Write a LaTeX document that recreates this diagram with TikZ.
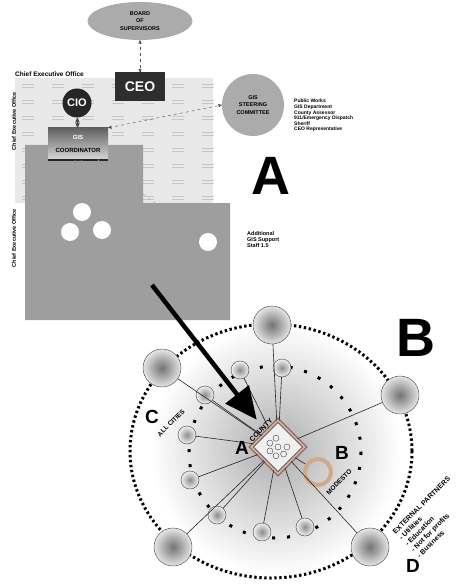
\documentclass[tikz,border=0pt]{standalone}
\usepackage{fontspec}
\setsansfont{Liberation Sans}
\usepackage{tikz}
\usetikzlibrary{arrows,arrows.meta,shapes.geometric}
\definecolor{countybrown}{RGB}{138,98,90}
\definecolor{modestotan}{RGB}{208,168,138}
\tikzset{
  lbl/.style = {inner sep=0pt, align=center, font=\sffamily\bfseries},
  note/.style = {lbl, align=left, font=\sffamily\bfseries\fontsize{5}{5.6}\selectfont},% side lists
  huge/.style = {lbl, font=\sffamily\bfseries\fontsize{54}{54}\selectfont},% big A and B
  mid/.style = {lbl, font=\sffamily\bfseries\fontsize{19}{19}\selectfont},
  slant/.style = {lbl, rotate=45, font=\sffamily\bfseries\fontsize{6.5}{6.5}\selectfont},
  board/.style = {lbl, ellipse, fill=black!33, minimum width=105pt, minimum height=38pt,
    font=\sffamily\bfseries\fontsize{5.5}{7.5}\selectfont},
  ceo/.style = {lbl, rectangle, fill=black!82, text=white, minimum width=50pt,
    minimum height=29pt, font=\sffamily\bfseries\fontsize{14}{14}\selectfont},
  cio/.style = {lbl, circle, fill=black!85, text=white, minimum size=29pt,
    font=\sffamily\bfseries\fontsize{11}{11}\selectfont},
  steer/.style = {lbl, circle, fill=black!33, minimum size=62pt,
    font=\sffamily\bfseries\fontsize{5.5}{7.5}\selectfont},
  coord/.style = {lbl, rectangle, top color=black!62, bottom color=black!15,
    minimum width=60pt, minimum height=32pt, font=\sffamily\bfseries\fontsize{6}{13}\selectfont},
  staff/.style = {circle, fill=white, minimum size=18pt, inner sep=0pt},
  link/.style = {<->, dashed, black!70, thin},
  feed/.style = {{Stealth[reversed,length=3.5pt]}-{Stealth[length=3.5pt]}, dashed, black!40, very thin},
  bigarrow/.style = {-{Triangle[length=32pt,width=29pt]}, line width=4.5pt, black},
  outerring/.style = {line width=3pt, dash pattern=on 2.4pt off 2.6pt},
  innerring/.style = {line width=3pt, dash pattern=on 3pt off 12pt},
  bigsat/.style = {circle, draw=black!75, inner color=black!55, outer color=black!10, minimum size=38pt},
  smallsat/.style = {circle, draw=black!75, inner color=black!45, outer color=black!5, minimum size=18pt},
  spoke/.style = {black!85, line width=0.6pt},
  county/.style = {diamond, draw=countybrown, line width=1.3pt, double=countybrown!45,
    double distance=1.6pt, fill=black!6, minimum width=54pt, minimum height=54pt, inner sep=0pt},
  modesto/.style = {circle, draw=modestotan, line width=4pt, minimum size=26pt},
  texture/.style = {black!22, line width=0.4pt}
}

\begin{document}
\begin{tikzpicture}[x=1pt,y=-1pt,>=stealth']
\useasboundingbox (0,0) rectangle (464,585);
% ---- A: county organisation
\fill[black!9] (15,78) rectangle (213,203);
\foreach \x in {22,52,...,202}
  \foreach \y in {84,100,...,196}
    \draw[texture] (\x,\y) -- ++(12,0) (\x,\y+3) -- ++(12,0);
\fill[black!38] (25,145) -- (143,145) -- (143,203) -- (230,203) -- (230,320) -- (25,320) -- cycle;

\node[lbl, anchor=west, font=\sffamily\bfseries\fontsize{6.5}{6.5}\selectfont] (ceolbl) at (15,74) {Chief Executive Office};
\node[lbl, rotate=90, font=\sffamily\bfseries\fontsize{5.5}{5.5}\selectfont] (ceolbl2) at (14,121) {Chief Executive Office};
\node[lbl, rotate=90, font=\sffamily\bfseries\fontsize{5.5}{5.5}\selectfont] (ceolbl3) at (14,238) {Chief Executive Office};

\node[board] (board) at (140,21) {BOARD\\OF\\SUPERVISORS};
\node[ceo] (ceo) at (140,87) {CEO};
\node[cio] (cio) at (77,103) {CIO};
\node[steer] (steer) at (253,105) {GIS\\STEERING\\COMMITTEE};
\node[coord] (coord) at (78,144) {{\color{white}GIS}\\COORDINATOR};
\draw[line width=1.5pt, black!85] (coord.south west) -- (coord.south east);
\node[note, anchor=north west] (members) at (294,99) {Public Works\\GIS Department\\County Assessor\\911/Emergency Dispatch\\Sheriff\\CEO Representative};

\draw[link] (board) -- (ceo);
\draw[link, solid, thick] (cio) -- (coord);
\draw[link] (coord.north east) -- (steer.west);

\node[staff] (staff1) at (82,212) {};
\node[staff] (staff2) at (70,232) {};
\node[staff] (staff3) at (102,230) {};
\node[staff] (staff4) at (208,242) {};
\draw[feed] (coord.-100) -- (staff2);
\draw[feed] (coord.-80) -- (staff3);
\draw[feed] (coord.-40) -- (staff4);

\node[huge] (labA) at (271,176) {A};
\node[note, anchor=west, font=\sffamily\bfseries\fontsize{5.5}{6}\selectfont] (extra) at (247,240) {Additional\\GIS Support\\Staff 1.5};

% ---- B: county and partners
\shade[inner color=black!32, outer color=white] (276,450) circle (125);
\draw[outerring] (271,451) ellipse (141 and 127);
\draw[innerring] (275,452) circle (86);

\node[county] (county) at (278,447) {};
\foreach \a in {0,51.4,...,308}
  \draw[black!75, thin] (county.center) ++(\a:9) circle (3);
\draw[black!75, thin] (county.center) circle (3);
\node[slant, font=\sffamily\bfseries\fontsize{7}{7}\selectfont] (countylbl) at (261,430) {COUNTY};

\node[bigsat] (partner1) at (272,325) {};
\node[bigsat] (partner2) at (162,368) {};
\node[bigsat] (partner3) at (400,395) {};
\node[bigsat] (partner4) at (173,547) {};
\node[bigsat] (partner5) at (370,547) {};
\node[smallsat] (city1) at (240,370) {};
\node[smallsat] (city2) at (282,368) {};
\node[smallsat] (city3) at (205,395) {};
\node[smallsat] (city4) at (187,435) {};
\node[smallsat] (city5) at (190,480) {};
\node[smallsat] (city6) at (217,515) {};
\node[smallsat] (city7) at (262,532) {};
\node[smallsat] (city8) at (305,527) {};
\node[modesto] (modesto) at (318,472) {};

\foreach \n in {partner1,partner2,partner3,partner4,partner5,city1,city2,city3,city4,city5,city6,city7,city8,modesto}
  \draw[spoke] (county) -- (\n);

\node[mid] (labA2) at (242,448) {A};
\node[mid] (labB2) at (342,453) {B};
\node[mid] (labC) at (152,417) {C};
\node[mid] (labD) at (413,566) {D};
\node[slant] (cities) at (171,423) {ALL CITIES};
\node[slant] (modestolbl) at (339,482) {MODESTO};
\node[lbl, align=left, rotate=45, anchor=north west, font=\sffamily\bfseries\fontsize{7}{8.5}\selectfont] (partners) at (392,531)
  {EXTERNAL PARTNERS\\ - Utilities\\ - Education\\ - Not for profits\\ - Business};
\node[huge] (labB) at (416,338) {B};

\coordinate (aflow) at (152,285);
\draw[bigarrow, shorten >=15pt] (aflow) -- (county);
\end{tikzpicture}
\end{document}
